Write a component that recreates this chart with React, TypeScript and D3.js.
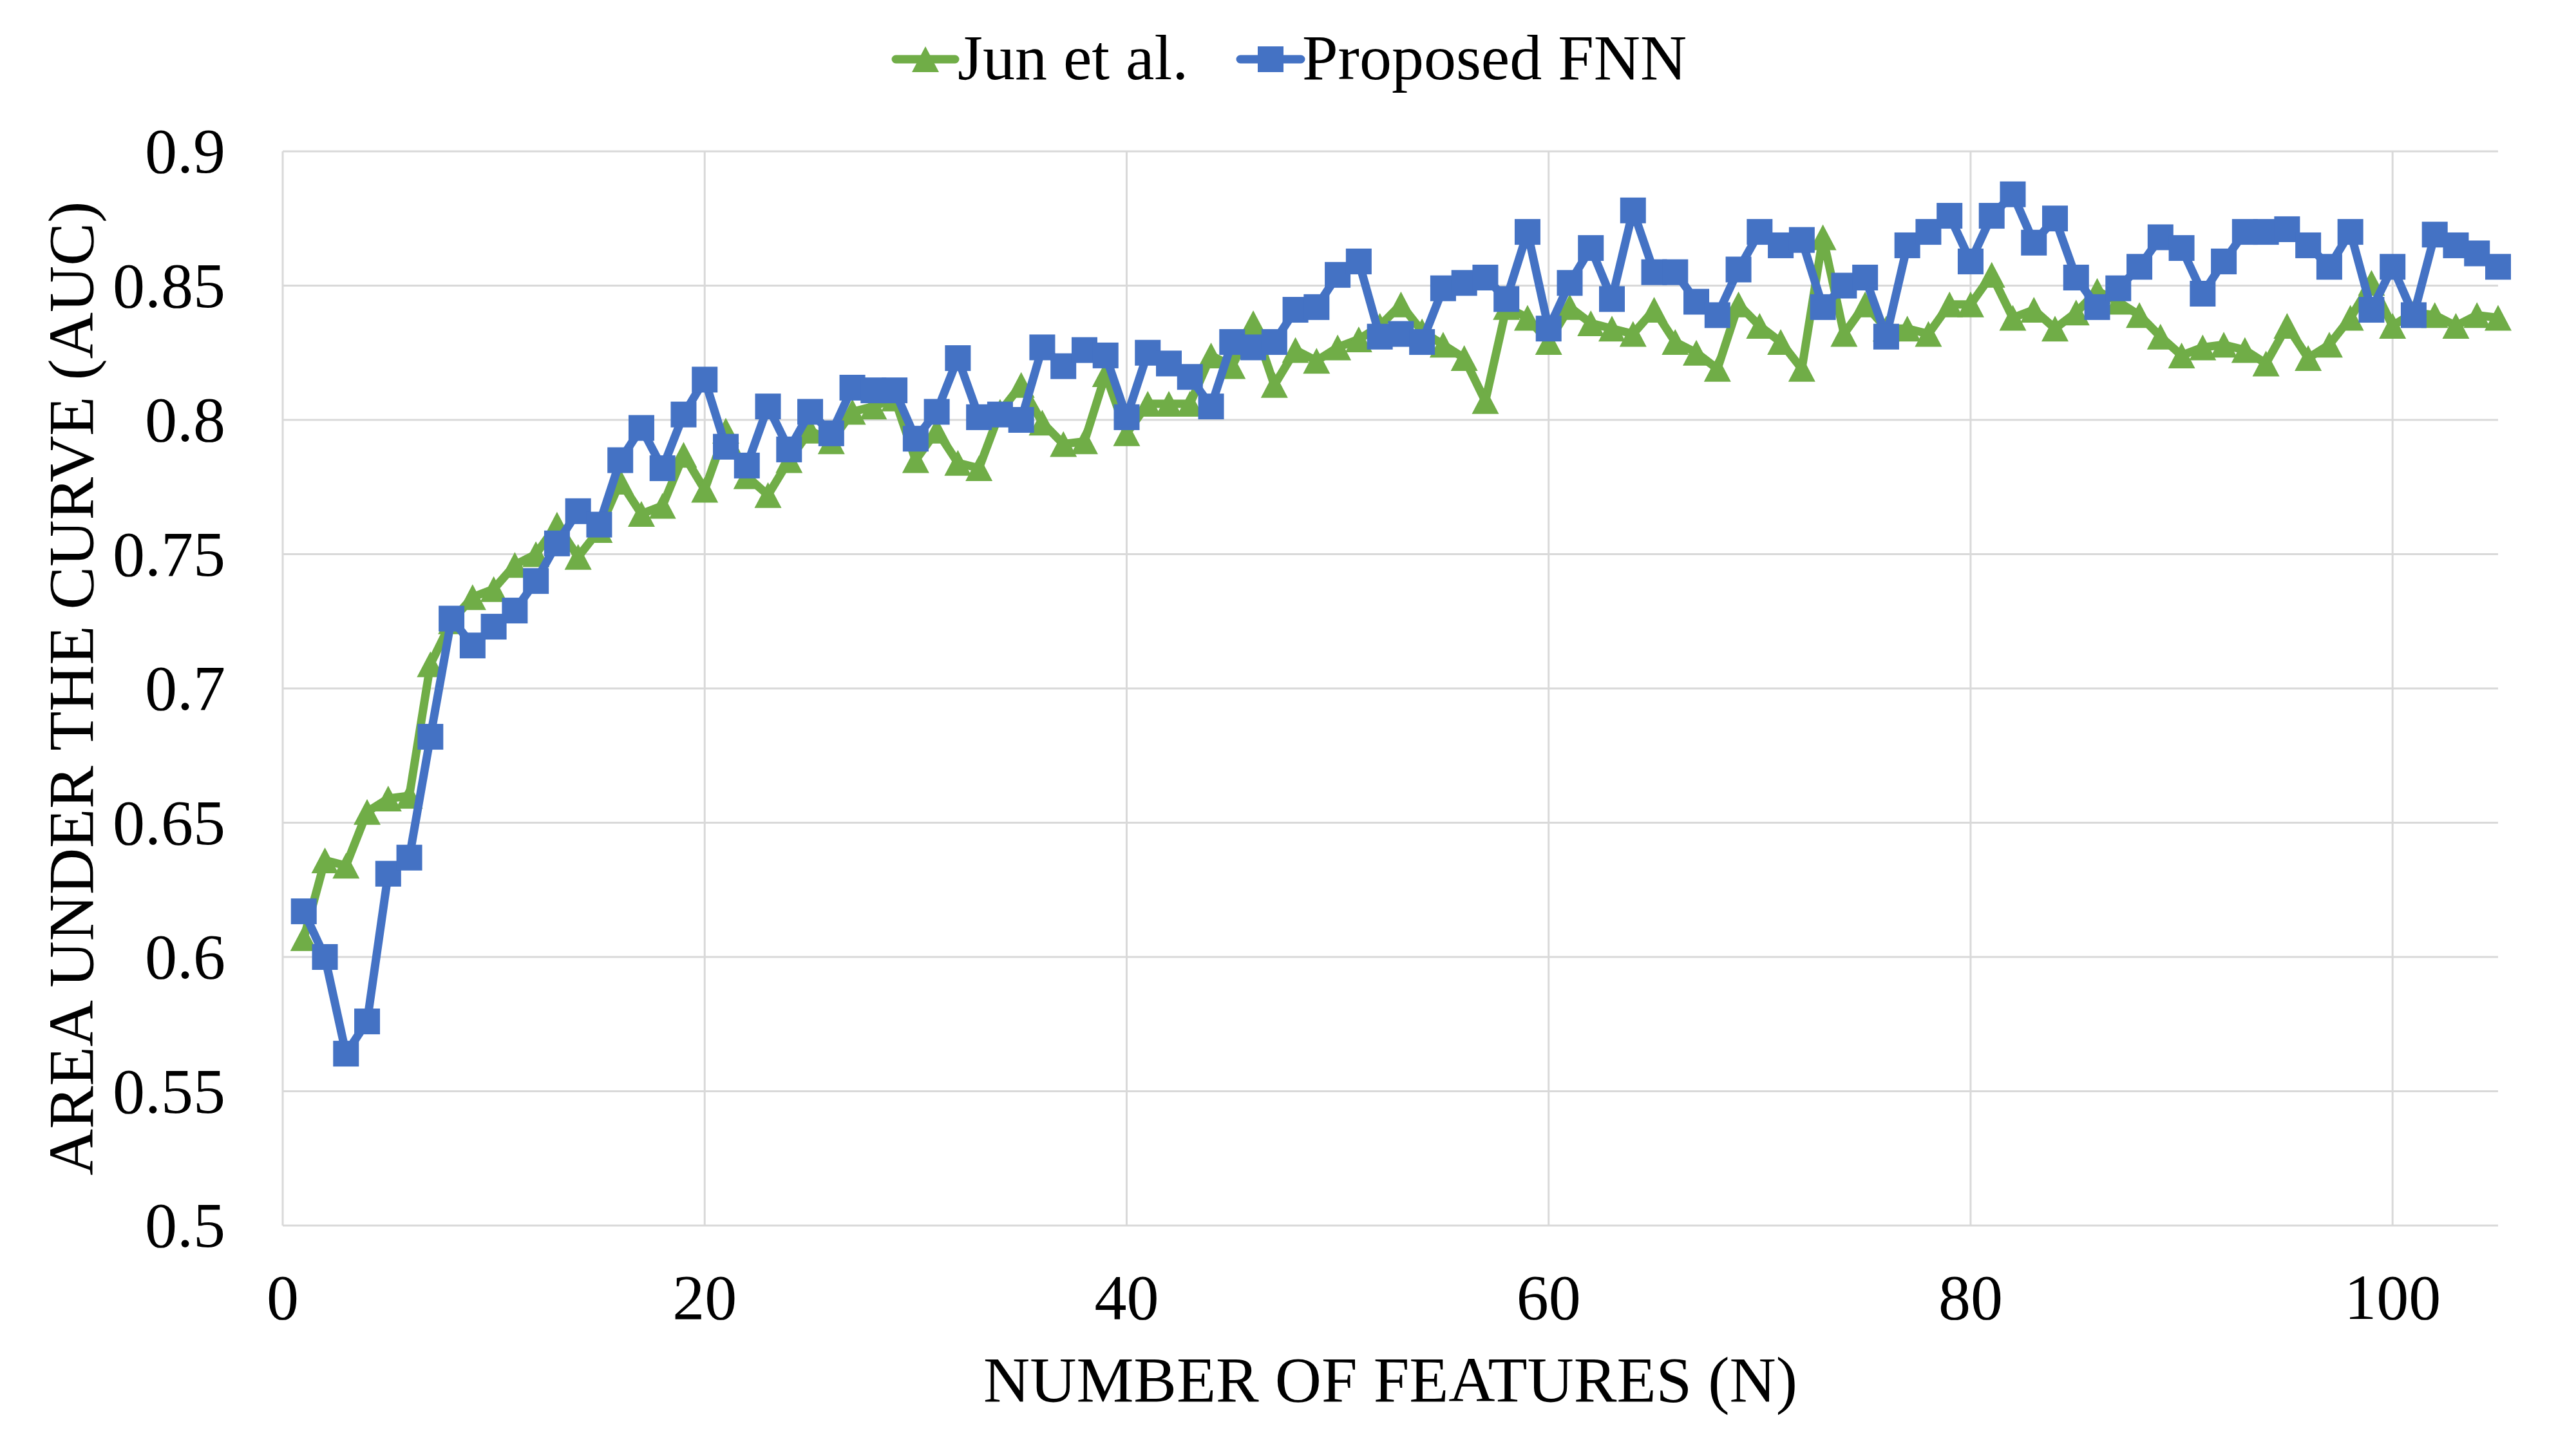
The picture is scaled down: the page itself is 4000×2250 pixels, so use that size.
import * as d3 from 'd3';

// AUC per number of features, N = 1..105
const jun = [
  0.607, 0.636, 0.634, 0.654, 0.659, 0.660, 0.709, 0.725, 0.734, 0.737,
  0.746, 0.750, 0.761, 0.749, 0.759, 0.777, 0.765, 0.768, 0.787, 0.774,
  0.796, 0.779, 0.772, 0.785, 0.796, 0.792, 0.803, 0.805, 0.808, 0.785,
  0.796, 0.784, 0.782, 0.803, 0.813, 0.799, 0.791, 0.792, 0.817, 0.795,
  0.806, 0.806, 0.806, 0.824, 0.820, 0.836, 0.813, 0.826, 0.822, 0.827,
  0.830, 0.835, 0.843, 0.833, 0.828, 0.823, 0.807, 0.842, 0.838, 0.829,
  0.842, 0.836, 0.834, 0.832, 0.841, 0.829, 0.825, 0.819, 0.843, 0.835,
  0.829, 0.819, 0.868, 0.832, 0.843, 0.834, 0.834, 0.832, 0.843, 0.843,
  0.854, 0.838, 0.841, 0.834, 0.840, 0.848, 0.844, 0.839, 0.831, 0.824,
  0.827, 0.828, 0.826, 0.821, 0.835, 0.823, 0.828, 0.838, 0.851, 0.835,
  0.840, 0.839, 0.835, 0.839, 0.838,
];

const fnn = [
  0.617, 0.600, 0.564, 0.576, 0.631, 0.637, 0.682, 0.726, 0.716, 0.723,
  0.729, 0.740, 0.754, 0.766, 0.761, 0.785, 0.797, 0.782, 0.802, 0.815,
  0.790, 0.783, 0.805, 0.789, 0.803, 0.795, 0.812, 0.811, 0.811, 0.793,
  0.803, 0.823, 0.801, 0.802, 0.800, 0.827, 0.820, 0.826, 0.824, 0.801,
  0.825, 0.821, 0.816, 0.805, 0.829, 0.827, 0.829, 0.841, 0.842, 0.854,
  0.859, 0.831, 0.832, 0.829, 0.849, 0.851, 0.853, 0.845, 0.870, 0.834,
  0.851, 0.864, 0.845, 0.878, 0.855, 0.855, 0.844, 0.839, 0.856, 0.870,
  0.865, 0.867, 0.842, 0.850, 0.853, 0.831, 0.865, 0.870, 0.876, 0.859,
  0.876, 0.884, 0.866, 0.875, 0.853, 0.842, 0.849, 0.857, 0.868, 0.864,
  0.847, 0.859, 0.870, 0.870, 0.871, 0.865, 0.857, 0.870, 0.841, 0.857,
  0.839, 0.869, 0.865, 0.862, 0.857,
];

const xTicks = [0, 20, 40, 60, 80, 100];
const yTicks = [0.5, 0.55, 0.6, 0.65, 0.7, 0.75, 0.8, 0.85, 0.9];

const GREEN = '#70AD47';
const BLUE = '#4472C4';
const GRID = '#D9D9D9';
const FONT = '"Liberation Serif", "Times New Roman", serif';
const FS = 100;

const W = 4000;
const H = 2250;
const left = 439;
const right = 3879;
const top = 235;
const bottom = 1903;

const x = d3.scaleLinear().domain([0, 105]).range([left, right]);
const y = d3.scaleLinear().domain([0.5, 0.9]).range([bottom, top]);

const line = d3
  .line<number>()
  .x((_, i) => x(i + 1))
  .y((d) => y(d));

const TW = 42;
const TH = 40;
const SQ = 40;
const tri = `M0,${-TH / 2}L${TW / 2},${TH / 2}L${-TW / 2},${TH / 2}Z`;

function Triangle({ cx, cy }: { cx: number; cy: number }) {
  return <path d={tri} transform={`translate(${cx},${cy})`} fill={GREEN} />;
}

function Square({ cx, cy }: { cx: number; cy: number }) {
  return <rect x={cx - SQ / 2} y={cy - SQ / 2} width={SQ} height={SQ} fill={BLUE} />;
}

export default function App() {
  return (
    <svg
      width={W}
      height={H}
      style={{ position: 'absolute', left: 0, top: 0, background: '#fff' }}
      fontFamily={FONT}
    >
      <rect width={W} height={H} fill="#fff" />

      {/* grid */}
      {yTicks.map((t) => (
        <line key={'gy' + t} x1={left} x2={right} y1={y(t)} y2={y(t)} stroke={GRID} strokeWidth={3} />
      ))}
      {xTicks.map((t) => (
        <line key={'gx' + t} x1={x(t)} x2={x(t)} y1={top} y2={bottom} stroke={GRID} strokeWidth={3} />
      ))}

      {/* tick labels */}
      {yTicks.map((t) => (
        <text key={'ty' + t} x={350} y={y(t) + 33} textAnchor="end" fontSize={FS} fill="#000">
          {String(t)}
        </text>
      ))}
      {xTicks.map((t) => (
        <text key={'tx' + t} x={x(t)} y={2048} textAnchor="middle" fontSize={FS} fill="#000">
          {t}
        </text>
      ))}

      {/* axis titles */}
      <text x={(left + right) / 2} y={2176} textAnchor="middle" fontSize={FS} fill="#000">
        NUMBER OF FEATURES (N)
      </text>
      <text
        transform={`translate(144,${(top + bottom) / 2}) rotate(-90)`}
        textAnchor="middle"
        fontSize={FS}
        fill="#000"
      >
        AREA UNDER THE CURVE (AUC)
      </text>

      {/* series */}
      <path d={line(jun) ?? ''} fill="none" stroke={GREEN} strokeWidth={13} strokeLinejoin="round" />
      {jun.map((v, i) => (
        <Triangle key={'j' + i} cx={x(i + 1)} cy={y(v)} />
      ))}
      <path d={line(fnn) ?? ''} fill="none" stroke={BLUE} strokeWidth={13} strokeLinejoin="round" />
      {fnn.map((v, i) => (
        <Square key={'f' + i} cx={x(i + 1)} cy={y(v)} />
      ))}

      {/* legend */}
      <line x1={1391} x2={1483} y1={92} y2={92} stroke={GREEN} strokeWidth={13} strokeLinecap="round" />
      <Triangle cx={1437} cy={92} />
      <text x={1487} y={123} fontSize={FS} fill="#000">
        Jun et al.
      </text>
      <line x1={1926} x2={2020} y1={92} y2={92} stroke={BLUE} strokeWidth={13} strokeLinecap="round" />
      <Square cx={1973} cy={92} />
      <text x={2022} y={123} fontSize={FS} fill="#000">
        Proposed FNN
      </text>
    </svg>
  );
}
